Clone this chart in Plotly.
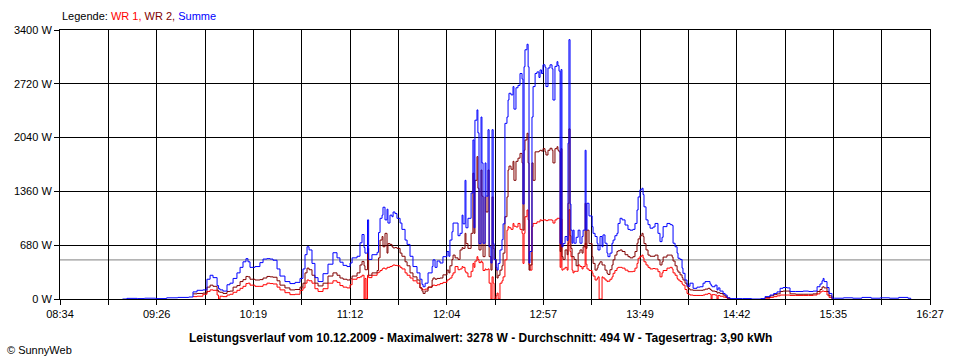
import plotly.graph_objects as go

N = None

# ---- x: minutes since midnight ----
time_min = [
    548, 550.4, 556, 560, 566, 572, 578, 584, 586.3, 588.5,
    591.7, 593.9, 595.6, 597.2, 599.4, 600.2, 601, 602.6, 604.8, 606.4,
    608.1, 610.2, 611.9, 613.5, 615.1, 616.2, 617.3, 620, 622.7, 624.4,
    626.5, 628.2, 629.8, 632, 633.6, 636.3, 639, 641.8, 644.5, 646.1,
    647.2, 648.3, 649.4, 651, 652.6, 654.3, 657, 659.7, 662.4, 664.6,
    666.2, 667.9, 670, 671.7, 672.8, 675.5, 677.1, 678.2, 679.3, 679.8,
    680.4, 681.2, 681.8, 683.6, 686.4, 687.2, 688, 689.1, 689.6, 690.7,
    691.8, 692.3, 693.4, 694.5, 695.1, 696.1, 697.2, 698.9, 699.9, 701.6,
    702.7, 704.3, 705.9, 708.1, 709.7, 710.8, 711.4, 712.5, 714.1, 716.3,
    716.8, 717.9, 719, 720.6, 722.2, 724.4, 725.4, 726, 727.1, 727.7,
    728.8, 730.4, 731.5, 732.6, 733.1, 734.2, 734.7, 735.8, 737.5, 738.5,
    739.1, 739.6, 740.7, 741.2, 741.8, 742.9, 743.4, 744, 745.1, 745.6,
    746.7, 747.3, 748.3, 748.9, 749.5, 750, 751.1, 751.6, 752.2, 753.2,
    754.3, 754.9, 755.9, 757, 757.6, 758.1, 759.2, 760.3, 760.8, 761.9,
    763, 764.1, 765.2, 765.7, 766.3, 766.8, 767.9, 768.5, 769, 769.5,
    770.6, 771.2, 772.3, 773.3, 774.4, 775, 775.8, 776.6, 777.7, 778.2,
    779.3, 780.4, 781.5, 782, 783.1, 784.2, 784.7, 785.3, 785.9, 786.4,
    786.9, 787.5, 788.6, 789.7, 790.2, 790.7, 791.3, 791.8, 792.4, 792.9,
    793.5, 794.6, 795.7, 796.7, 797.8, 798.4, 799.5, 800, 800.5, 801.6,
    803.3, 803.8, 804.9, 806, 806.5, 807.1, 807.6, 808.7, 809.2, 810.3,
    811.4, 811.9, 813, 814.1, 814.7, 815.7, 816.8, 817.4, 818.5, 819.6,
    821.2, 822.8, 823.9, 825.5, 826.6, 827.7, 828.3, 829.3, 830.4, 831,
    831.5, 832.6, 833.7, 834.8, 836.4, 837.5, 839.1, 840.2, 841.3, 841.9,
    844, 845.7, 846.8, 847.3, 848.4, 849.5, 850, 851.1, 852.2, 852.7,
    853.8, 854.9, 855.5, 856.5, 858.2, 860.3, 862, 863.6, 864.7, 866.3,
    867.4, 868, 868.5, 870.1, 871.2, 871.8, 872.8, 874.5, 875.6, 876.7,
    878.3, 885, 890, 895, 897.3, 900, 902, 903.8, 905.5, 907.1,
    909.3, 910.9, 914, 918, 921, 923.4, 925.6, 927.2, 928.3, 928.9,
    929.4, 931, 932.1, 933.7, 935, 940, 945, 950, 955, 960,
    965, 970, 975, 976.5,
]

summe_w = [
    0, 8, 5, 10, 5, 15, 20, 25, 90, 110,
    115, 250, 300, 270, 170, 130, 115, 100, 180, 200,
    260, 330, 400, 470, 510, 470, 400, 410, 460, 505,
    510, 505, 490, 380, 290, 220, 195, 210, 260, 380,
    560, 660, 620, 450, 270, 220, 320, 440, 585, 520,
    465, 425, 410, 455, 520, 540, 710, 815, 650, 580,
    580, 1000, 500, 560, 590, 840, 1020, 1060, 1160, 1000,
    1135, 960, 1060, 1040, 1100, 1080, 1020, 960, 880, 745,
    690, 540, 410, 330, 250, 185, 155, 200, 330, 410,
    495, 400, 480, 455, 535, 600, 540, 745, 850, 960,
    960, 800, 830, 1060, 950, 1500, 900, 1020, 1340, 2010,
    900, 2260, 2390, 2100, 700, 2300, 1720, 705, 1720, 1300,
    2140, 660, 455, 2140, 700, 500, 400, 365, 450, 620,
    750, 950, 2220, 2300, 2515, 2600, 2580, 2685, 2400, 2670,
    2700, 2850, 2780, 1200, 2935, 3150, 3220, 2935, 455, 600,
    2300, 2685, 2850, 2870, 2800, 2895, 2850, 2960, 2930, 2685,
    2920, 2960, 2910, 2515, 2940, 3000, 2950, 2880, 700, 2900,
    660, 700, 790, 740, 1970, 3278, 1200, 870, 705, 870,
    705, 780, 870, 705, 790, 870, 1880, 870, 1210, 1050,
    915, 830, 790, 705, 620, 620, 790, 660, 810, 705,
    580, 535, 580, 705, 745, 800, 830, 955, 1020, 1000,
    935, 880, 870, 880, 955, 1125, 1290, 1380, 1400, 1320,
    1165, 1000, 940, 895, 910, 955, 830, 725, 780, 915,
    955, 940, 930, 705, 660, 580, 515, 500, 390, 325,
    240, 175, 160, 200, 135, 150, 155, 200, 220, 220,
    190, 170, 155, 175, 115, 140, 100, 70, 50, 15,
    5, 5, 0, 5, 30, 50, 70, 90, 135, 145,
    140, 95, 95, 100, 95, 100, 155, 190, 230, 260,
    220, 145, 70, 10, 10, 15, 10, 20, 10, 15,
    10, 20, 10, 0,
]

wr2_w = [
    N, N, N, N, N, N, N, N, 65, 70,
    75, 150, 175, 160, 110, 90, 85, 70, 95, 100,
    150, 170, 220, 245, 285, 280, 250, 240, 245, 265,
    285, 280, 275, 230, 175, 140, 115, 120, 150, 200,
    330, 390, 370, 300, 200, 165, 200, 290, 330, 300,
    265, 250, 240, 255, 290, 330, 430, 475, 420, 370,
    370, 640, 300, 330, 360, 520, 745, 790, 660, 830,
    580, 700, 690, 660, 645, 650, 640, 580, 540, 470,
    420, 330, 280, 240, 140, 100, 70, 100, 150, 240,
    265, 250, 260, 265, 305, 365, 330, 420, 500, 555,
    520, 500, 620, 650, 640, 830, 700, 640, 830, 1590,
    830, 1500, 1800, 1400, 620, 1630, 1300, 535, 1290, 1100,
    1630, 535, 365, 1290, 640, 500, 365, 265, 300, 365,
    420, 580, 1040, 1290, 1630, 1680, 1640, 1740, 1500, 1740,
    1780, 1840, 1720, 870, 1880, 2010, 2095, 1720, 365, 430,
    1720, 1500, 1860, 1860, 1870, 1880, 1870, 1900, 1860, 1820,
    1880, 1905, 1880, 1720, 1900, 1925, 1880, 1860, 600, 1900,
    535, 500, 620, 560, 1210, 2150, 800, 640, 535, 535,
    500, 420, 580, 620, 580, 660, 1210, 640, 870, 700,
    535, 450, 365, 390, 430, 450, 470, 430, 430, 365,
    325, 310, 370, 430, 495, 555, 600, 610, 620, 600,
    560, 535, 520, 535, 600, 705, 760, 800, 830, 790,
    700, 620, 555, 540, 540, 555, 495, 430, 470, 530,
    555, 555, 530, 480, 420, 365, 340, 305, 270, 240,
    200, 155, 130, 115, 110, 110, 110, 115, 125, 135,
    120, 110, 100, 95, 75, 80, 70, 50, 35, 12,
    0, N, N, N, 20, 40, 55, 65, 95, 100,
    100, 65, 60, 60, 60, 65, 95, 120, 150, 155,
    140, 95, 40, 5, N, N, N, N, N, N,
    N, N, N, N,
]

wr1_w = [
    N, N, N, N, N, N, N, N, 30, 35,
    60, 95, 115, 110, 50, 0, 35, 30, 50, 60,
    85, 110, 135, 160, 195, 200, 175, 160, 160, 180,
    200, 195, 190, 150, 115, 80, 55, 60, 110, 140,
    200, 240, 230, 200, 130, 95, 130, 200, 230, 210,
    170, 150, 140, 180, 250, 270, 280, 300, 0, 260,
    0, 300, 270, 300, 330, 340, 360, 380, 390, 380,
    400, 400, 410, 420, 430, 425, 420, 400, 380, 330,
    300, 265, 230, 200, 140, 120, 115, 125, 150, 170,
    175, 170, 180, 195, 210, 240, 250, 265, 300, 330,
    410, 370, 380, 410, 400, 350, 330, 280, 350, 450,
    400, 480, 535, 500, 460, 480, 460, 360, 380, 370,
    380, 200, 0, 280, 200, 0, 40, 75, 0, 200,
    230, 280, 495, 870, 915, 900, 880, 955, 920, 910,
    955, 880, 830, 450, 830, 1040, 1125, 1000, 430, 365,
    915, 955, 955, 975, 975, 1000, 990, 1000, 1000, 990,
    1000, 1000, 995, 960, 1000, 1020, 1020, 1020, 400, 1010,
    365, 380, 400, 365, 705, 1128, 600, 535, 365, 330,
    350, 350, 430, 410, 380, 410, 705, 440, 380, 360,
    330, 290, 240, 260, 280, 0, 0, 280, 265, 240,
    220, 225, 250, 280, 325, 360, 390, 400, 400, 390,
    365, 345, 345, 350, 390, 450, 515, 540, 555, 520,
    470, 430, 400, 380, 385, 380, 345, 280, 330, 360,
    390, 400, 380, 330, 300, 260, 240, 220, 190, 175,
    120, 70, 60, 50, 45, 45, 45, 50, 60, 70,
    60, 0, 55, 50, 0, 45, 35, 25, 20, 8,
    0, N, N, N, 10, 20, 30, 40, 50, 50,
    50, 45, 45, 45, 45, 50, 65, 90, 100, 100,
    95, 50, 20, 0, N, N, N, N, N, N,
    N, N, N, N,
]

average_w = 494
x_start, x_end = 514, 987          # 08:34 .. 16:27
x_labels = ["08:34", "09:26", "10:19", "11:12", "12:04",
            "12:57", "13:49", "14:42", "15:35", "16:27"]
y_vals = [0, 680, 1360, 2040, 2720, 3400]
y_labels = ["0 W", "680 W", "1360 W", "2040 W", "2720 W", "3400 W"]
title_text = ("Leistungsverlauf vom 10.12.2009 - Maximalwert: 3278 W - "
              "Durchschnitt: 494 W - Tagesertrag: 3,90 kWh")

FONT = "Liberation Sans, Arial, sans-serif"

n_grid = 2 * (len(x_labels) - 1)
step = (x_end - x_start) / n_grid
x_tickvals = [x_start + k * step for k in range(n_grid + 1)]
x_ticktext = [x_labels[k // 2] if k % 2 == 0 else "" for k in range(n_grid + 1)]

fig = go.Figure()
fig.add_trace(go.Scatter(x=time_min, y=wr1_w, name="WR 1", mode="lines",
                         line=dict(color="#FF0000", width=1, shape="hv")))
fig.add_trace(go.Scatter(x=time_min, y=wr2_w, name="WR 2", mode="lines",
                         line=dict(color="#800000", width=1, shape="hv")))
fig.add_trace(go.Scatter(x=time_min, y=summe_w, name="Summe", mode="lines",
                         line=dict(color="#0000FF", width=1, shape="hv")))

fig.add_shape(type="line", xref="paper", x0=0, x1=1, yref="y",
              y0=average_w, y1=average_w, line=dict(color="#808080", width=1),
              layer="below")

fig.update_layout(
    width=960, height=360,
    margin=dict(l=60, r=30, t=30, b=61),
    paper_bgcolor="white", plot_bgcolor="white",
    showlegend=False,
    font=dict(family=FONT, size=11, color="black"),
    xaxis=dict(range=[x_start, x_end], tickvals=x_tickvals, ticktext=x_ticktext,
               showgrid=True, gridcolor="black", gridwidth=1,
               showline=True, linecolor="black", linewidth=1, mirror=True,
               ticks="outside", ticklen=5, tickcolor="black", zeroline=False,
               tickfont=dict(family=FONT, size=11, color="black")),
    yaxis=dict(range=[0, 3400], tickvals=y_vals, ticktext=y_labels,
               showgrid=True, gridcolor="black", gridwidth=1,
               showline=True, linecolor="black", linewidth=1, mirror=True,
               ticks="outside", ticklen=5, tickcolor="black", zeroline=False,
               tickfont=dict(family=FONT, size=11, color="black")),
    annotations=[
        dict(xref="paper", yref="paper", x=0, y=1.052, xanchor="left",
             yanchor="middle", showarrow=False,
             text=('Legende: <span style="color:#FF0000">WR 1,</span> '
                   '<span style="color:#800000">WR 2,</span> '
                   '<span style="color:#0000FF">Summe</span>'),
             font=dict(family=FONT, size=11, color="black")),
        dict(xref="paper", yref="paper", x=0.4828, y=-0.145, xanchor="center",
             yanchor="middle", showarrow=False, text="<b>" + title_text + "</b>",
             font=dict(family=FONT, size=12, color="black")),
        dict(xref="paper", yref="paper", x=-0.0632, y=-0.19, xanchor="left",
             yanchor="middle", showarrow=False, text="© SunnyWeb",
             font=dict(family=FONT, size=11, color="black")),
    ],
)

fig.write_html("out.html", config={"displayModeBar": False},
               post_script="document.body.style.margin='0';")
